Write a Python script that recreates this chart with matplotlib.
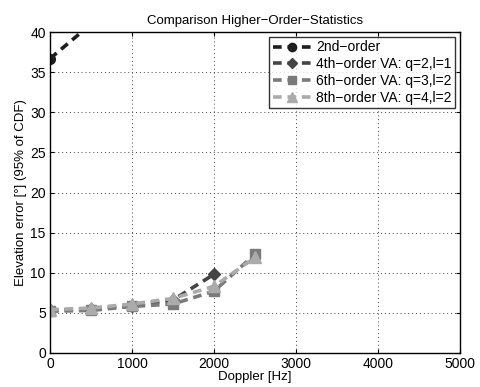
import matplotlib
matplotlib.use("Agg")
import matplotlib.pyplot as plt

plt.rcParams['font.family'] = ['Liberation Sans', 'DejaVu Sans']

doppler = [0, 500, 1000, 1500, 2000, 2500]
x_2nd = [0, 500]
y_2nd = [36.7, 41.0]
x_4th = [0, 500, 1000, 1500, 2000]
y_4th = [5.3, 5.5, 5.9, 6.6, 9.8]
y_6th = [5.2, 5.3, 5.8, 6.1, 7.7, 12.3]
y_8th = [5.4, 5.6, 6.1, 6.8, 8.3, 11.9]
labels = ["2nd\u2212order", "4th\u2212order VA: q=2,l=1",
          "6th\u2212order VA: q=3,l=2", "8th\u2212order VA: q=4,l=2"]

fig = plt.figure(figsize=(4.81, 3.87), dpi=100)
ax = fig.add_axes([0.104, 0.088, 0.852, 0.829])

lw = 2.6
d = (2.4, 1.6)
ax.plot(x_2nd, y_2nd, '--', color='#1e1e1e', lw=lw, marker='o', ms=7,
        mfc='#1e1e1e', mec='#1e1e1e', label=labels[0], dashes=d)
ax.plot(x_4th, y_4th, '--', color='#454545', lw=lw, marker='D', ms=6,
        mfc='#454545', mec='#454545', label=labels[1], dashes=d)
ax.plot(doppler, y_6th, '--', color='#7a7a7a', lw=lw, marker='s', ms=7,
        mfc='#7a7a7a', mec='#7a7a7a', label=labels[2], dashes=d)
ax.plot(doppler, y_8th, '--', color='#ababab', lw=lw, marker='^', ms=9,
        mfc='#ababab', mec='#ababab', label=labels[3], dashes=d)

ax.set_xlim(0, 5000)
ax.set_ylim(0, 40)
ax.set_xticks(range(0, 5001, 1000))
ax.set_yticks(range(0, 41, 5))
ax.grid(True, linestyle=(0, (1, 3)), color='#444444', lw=0.7)
ax.tick_params(labelsize=10, direction='in', length=3, top=True, right=True, pad=3)
for s in ax.spines.values():
    s.set_linewidth(1.0)
ax.set_xlabel("Doppler [Hz]", fontsize=9.5, labelpad=0)
ax.set_ylabel("Elevation error [°] (95% of CDF)", fontsize=9.5, labelpad=2)
ax.set_title("Comparison Higher\u2212Order\u2212Statistics", fontsize=9.5, pad=6)

leg = ax.legend(loc='upper right', fontsize=10, frameon=True, fancybox=False,
                edgecolor='black', borderpad=0.25, labelspacing=0.2,
                handlelength=2.8, handletextpad=0.3, borderaxespad=0.35,
                markerscale=0.85)
leg.get_frame().set_linewidth(1.0)

fig.savefig("out.png", dpi=100)
